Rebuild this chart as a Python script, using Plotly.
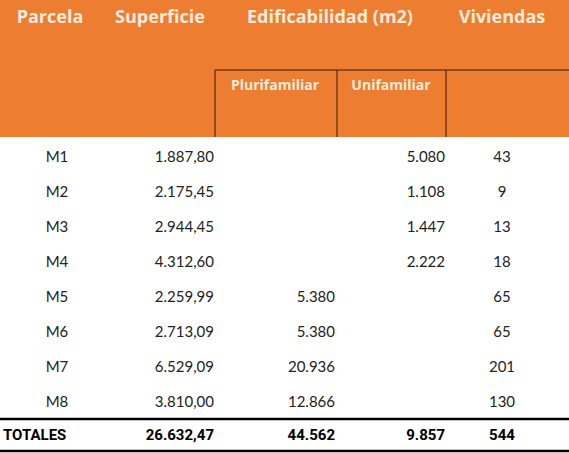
import plotly.graph_objects as go

parcelas = ["M1", "M2", "M3", "M4", "M5", "M6", "M7", "M8"]
superficie = ["1.887,80", "2.175,45", "2.944,45", "4.312,60", "2.259,99", "2.713,09", "6.529,09", "3.810,00"]
plurifamiliar = ["", "", "", "", "5.380", "5.380", "20.936", "12.866"]
unifamiliar = ["5.080", "1.108", "1.447", "2.222", "", "", "", ""]
viviendas = ["43", "9", "13", "18", "65", "65", "201", "130"]
totales = ["TOTALES", "26.632,47", "44.562", "9.857", "544"]
headers = ["Parcela", "Superficie", "Edificabilidad (m2)", "Viviendas"]
subheaders = ["Plurifamiliar", "Unifamiliar"]

W, H = 569, 453
ORANGE = "#ED7D31"
TXT = "#222222"
row_y = [158 + 35 * i for i in range(len(parcelas))]
tot_y = 436

fig = go.Figure()
fig.add_shape(type="rect", x0=0, x1=W, y0=0, y1=137, fillcolor=ORANGE, line_width=0, layer="below")
for x in [215, 337, 446]:
    fig.add_shape(type="line", x0=x, x1=x, y0=70, y1=137, line=dict(color="#3a1a0a", width=1))
fig.add_shape(type="line", x0=215, x1=W, y0=70, y1=70, line=dict(color="#3a1a0a", width=1))
fig.add_shape(type="line", x0=0, x1=W, y0=419, y1=419, line=dict(color="black", width=2.5))
fig.add_shape(type="line", x0=0, x1=W, y0=451, y1=451, line=dict(color="black", width=2.5))

hfont = dict(family="Open Sans, Lato, sans-serif", size=18, color="#FCEBDD")
hx = [50, 160, 330, 502]
fig.add_trace(go.Scatter(x=hx, y=[18] * 4, mode="text", text=[f"<b>{h}</b>" for h in headers],
                         textposition="middle center", textfont=hfont, hoverinfo="skip"))
fig.add_trace(go.Scatter(x=[275, 391], y=[86, 86], mode="text", text=[f"<b>{s}</b>" for s in subheaders],
                         textposition="middle center",
                         textfont=dict(family="Open Sans, Lato, sans-serif", size=14, color="#FCEBDD"), hoverinfo="skip"))

dfont = dict(family="Lato, sans-serif", size=15, color=TXT)
fig.add_trace(go.Scatter(x=[57] * 8, y=row_y, mode="text", text=parcelas, textposition="middle center", textfont=dfont, hoverinfo="skip"))
for xr, col in [(214, superficie), (335, plurifamiliar), (445, unifamiliar)]:
    fig.add_trace(go.Scatter(x=[xr] * 8, y=row_y, mode="text", text=col, textposition="middle left", textfont=dfont, hoverinfo="skip"))
fig.add_trace(go.Scatter(x=[502] * 8, y=row_y, mode="text", text=viviendas, textposition="middle center", textfont=dfont, hoverinfo="skip"))

bfont = dict(family="Roboto, sans-serif", size=15, color="black")
fig.add_trace(go.Scatter(x=[3], y=[tot_y], mode="text", text=[f"<b>{totales[0]}</b>"], textposition="middle right", textfont=bfont, hoverinfo="skip"))
fig.add_trace(go.Scatter(x=[214, 335, 445], y=[tot_y] * 3, mode="text", text=[f"<b>{t}</b>" for t in totales[1:4]],
                         textposition="middle left", textfont=bfont, hoverinfo="skip"))
fig.add_trace(go.Scatter(x=[502], y=[tot_y], mode="text", text=[f"<b>{totales[4]}</b>"], textposition="middle center", textfont=bfont, hoverinfo="skip"))

fig.update_layout(width=W, height=H, margin=dict(l=0, r=0, t=0, b=0), showlegend=False,
                  plot_bgcolor="white", paper_bgcolor="white",
                  xaxis=dict(range=[0, W], visible=False, fixedrange=True),
                  yaxis=dict(range=[H, 0], visible=False, fixedrange=True))
fig.write_html("out.html", config={"displayModeBar": False})
with open("out.html", encoding="utf-8") as f:
    html = f.read()
html = html.replace("<body>", '<body style="margin:0;overflow:hidden">', 1)
with open("out.html", "w", encoding="utf-8") as f:
    f.write(html)
